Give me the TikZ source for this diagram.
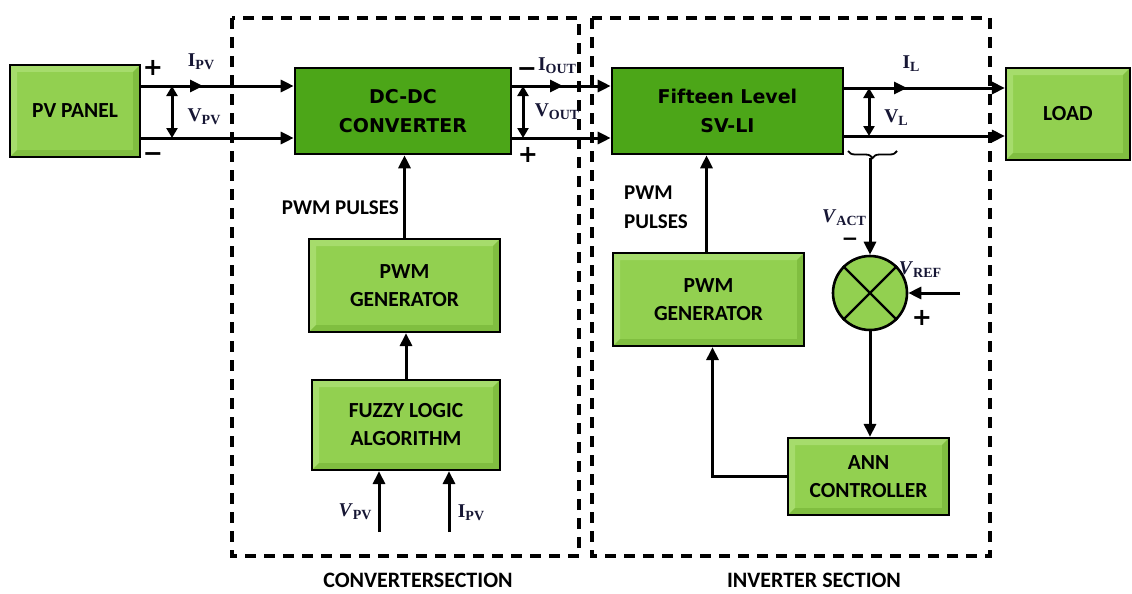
\documentclass[tikz,border=0pt]{standalone}
\usepackage{fontspec}
\setmainfont{Liberation Serif}
\newfontfamily\boxfont{Carlito}
\newfontfamily\wideboxfont{DejaVu Sans}
\usetikzlibrary{arrows.meta,decorations.pathreplacing,calc}

\definecolor{lgreen}{RGB}{146,208,80}
\definecolor{lgreenhi}{RGB}{166,220,108}
\definecolor{lgreenlo}{RGB}{128,190,64}
\definecolor{dgreen}{RGB}{76,166,24}
\definecolor{signal}{RGB}{22,22,52}

% signal name with a capital subscript
\newcommand\sig[2]{\textbf{#1\raisebox{-0.35ex}{\fontsize{14}{14}\selectfont #2}}}
\newcommand\isig[2]{\textbf{\textit{#1}\raisebox{-0.35ex}{\fontsize{14}{14}\selectfont #2}}}

\begin{document}
\begin{tikzpicture}[x=1pt,y=-1pt,
  lbox/.style={draw=black, line width=2.2pt, fill=lgreen, align=center,
    font=\boxfont\bfseries\fontsize{21.5}{28}\selectfont,
    path picture={
      \fill[lgreenhi] (path picture bounding box.north west) --
        (path picture bounding box.north east) --
        ([shift={(-7pt,-7pt)}]path picture bounding box.north east) --
        ([shift={(7pt,-7pt)}]path picture bounding box.north west) --
        ([shift={(7pt,7pt)}]path picture bounding box.south west) --
        (path picture bounding box.south west) -- cycle;
      \fill[lgreenlo] (path picture bounding box.south east) --
        (path picture bounding box.south west) --
        ([shift={(7pt,7pt)}]path picture bounding box.south west) --
        ([shift={(-7pt,7pt)}]path picture bounding box.south east) --
        ([shift={(-7pt,-7pt)}]path picture bounding box.north east) --
        (path picture bounding box.north east) -- cycle;}},
  dbox/.style={draw=black, line width=2.6pt, fill=dgreen, align=center,
    font=\wideboxfont\bfseries\fontsize{19}{29}\selectfont},
  wire/.style={line width=3pt},
  arr/.style={line width=3pt, -{Triangle[length=13pt,width=12pt]}},
  dblarr/.style={line width=3pt, {Triangle[length=10pt,width=11pt]}-{Triangle[length=10pt,width=11pt]}},
  dashbox/.style={line width=3.2pt, dash pattern=on 11pt off 8pt},
  lab/.style={font=\fontsize{19.5}{19.5}\selectfont, text=signal, inner sep=0pt},
  sgn/.style={font=\wideboxfont\bfseries\fontsize{24}{24}\selectfont, inner sep=0pt},
  txt/.style={font=\boxfont\bfseries\fontsize{21}{29}\selectfont, inner sep=0pt},
]
\useasboundingbox (0,0) rectangle (1132,594);

% section frames
\draw[dashbox] (232,18) rectangle (579,556);
\draw[dashbox] (592,18) rectangle (990,556);
\node[txt, font=\boxfont\bfseries\fontsize{22}{22}\selectfont] (capconv) at (418,580) {CONVERTERSECTION};
\node[txt, font=\boxfont\bfseries\fontsize{22}{22}\selectfont] (capinv) at (814,580) {INVERTER SECTION};

% blocks
\node[lbox, minimum width=130pt, minimum height=92pt] (pv) at (75,111) {PV PANEL};
\node[dbox, minimum width=216pt, minimum height=86pt] (dc) at (403,111) {DC-DC\\CONVERTER};
\node[dbox, minimum width=231pt, minimum height=86pt] (inv) at (727.5,111) {Fifteen Level\\SV-LI};
\node[lbox, minimum width=124pt, minimum height=92pt] (load) at (1068,114) {LOAD};
\node[lbox, minimum width=191pt, minimum height=93pt] (pwma) at (404.5,285.5) {PWM\\GENERATOR};
\node[lbox, minimum width=188pt, minimum height=90pt] (fuzzy) at (406,425) {FUZZY LOGIC\\ALGORITHM};
\node[lbox, minimum width=191pt, minimum height=93pt] (pwmb) at (708.5,299.5) {PWM\\GENERATOR};
\node[lbox, minimum width=161pt, minimum height=77pt] (ann) at (868.5,476.5) {ANN\\CONTROLLER};
\node[draw=black, line width=2.6pt, fill=lgreen, circle, minimum size=74pt, inner sep=0pt] (sum) at (870,293) {};
\draw[line width=2.4pt] (sum.north west) -- (sum.south east);
\draw[line width=2.4pt] (sum.north east) -- (sum.south west);

% heights of the power lines
\coordinate (yT) at (0,86);
\coordinate (yB) at (0,138);
\coordinate (yLT) at (0,88);
\coordinate (yLB) at (0,136);

% PV panel -> converter
\coordinate (mA) at (203,86);
\draw[arr] (pv.east |- yT) -- (mA);
\draw[arr] (pv.east |- yT) -- (dc.west |- yT);
\draw[arr] (pv.east |- yB) -- (dc.west |- yB);
\coordinate (dvA) at (172,86);
\draw[dblarr] (dvA) -- (dvA |- yB);
\node[lab] (ipv) at (201,62) {\sig{I}{PV}};
\node[lab] (vpv) at (204,117) {\sig{V}{PV}};
\node[sgn] (pvplus) at (153,68) {+};
\node[sgn] (pvminus) at (153,157) {−};

% converter -> inverter
\coordinate (mB) at (563,86);
\draw[arr] (dc.east |- yT) -- (mB);
\draw[arr] (dc.east |- yT) -- (inv.west |- yT);
\draw[arr] (dc.east |- yB) -- (inv.west |- yB);
\coordinate (dvB) at (523,86);
\draw[dblarr] (dvB) -- (dvB |- yB);
\node[lab] (iout) at (557,66) {\sig{I}{OUT}};
\node[lab] (vout) at (557,112) {\sig{V}{OUT}};
\node[sgn] (outminus) at (527,72) {−};
\node[sgn] (outplus) at (528,155) {+};

% inverter -> load
\coordinate (mC) at (907,88);
\draw[arr] (inv.east |- yLT) -- (mC);
\draw[arr] (inv.east |- yLT) -- (load.west |- yLT);
\draw[arr] (inv.east |- yLB) -- (load.west |- yLB);
\coordinate (dvC) at (869,88);
\draw[dblarr] (dvC) -- (dvC |- yLB);
\node[lab] (il) at (911,64) {\sig{I}{L}};
\node[lab] (vl) at (896,118) {\sig{V}{L}};

% sensed load voltage to the comparator
\coordinate (brL) at (848,151);
\coordinate (brR) at (897,151);
\draw[line width=1.8pt, decorate, decoration={brace, amplitude=7pt, mirror}] (brL) -- (brR);
\coordinate (brtip) at (870,158);
\draw[arr] (brtip) -- (sum.north);
\node[lab] (vact) at (844,218) {\isig{V}{ACT}};
\node[sgn, font=\wideboxfont\bfseries\fontsize{20}{20}\selectfont] (actminus) at (850,242) {−};
\coordinate (vrefin) at (960,293);
\draw[arr] (vrefin) -- (sum.east);
\node[lab] (vref) at (920,270) {\isig{V}{REF}};
\node[sgn] (refplus) at (922,318) {+};

% inverter control loop
\draw[arr] (sum.south) -- (sum.south |- ann.north);
\draw[arr] (ann.west) -| ([xshift=4pt]pwmb.south);
\draw[arr] ([xshift=-2pt]pwmb.north) -- ([xshift=-2pt]pwmb.north |- inv.south);
\node[txt, anchor=west, align=left] (pulsesb) at (624,207.5) {PWM\\PULSES};

% converter control loop
\draw[arr] (pwma.north) -- (pwma.north |- dc.south);
\node[txt, anchor=east] (pulsesa) at (399,208) {PWM PULSES};
\draw[arr] (fuzzy.north) -- (fuzzy.north |- pwma.south);
\coordinate (vin) at (379,532);
\coordinate (iin) at (449,532);
\draw[arr] (vin) -- (vin |- fuzzy.south);
\draw[arr] (iin) -- (iin |- fuzzy.south);
\node[lab] (vpvin) at (355,512) {\isig{V}{PV}};
\node[lab] (ipvin) at (471,513) {\sig{I}{PV}};
\end{tikzpicture}
\end{document}
